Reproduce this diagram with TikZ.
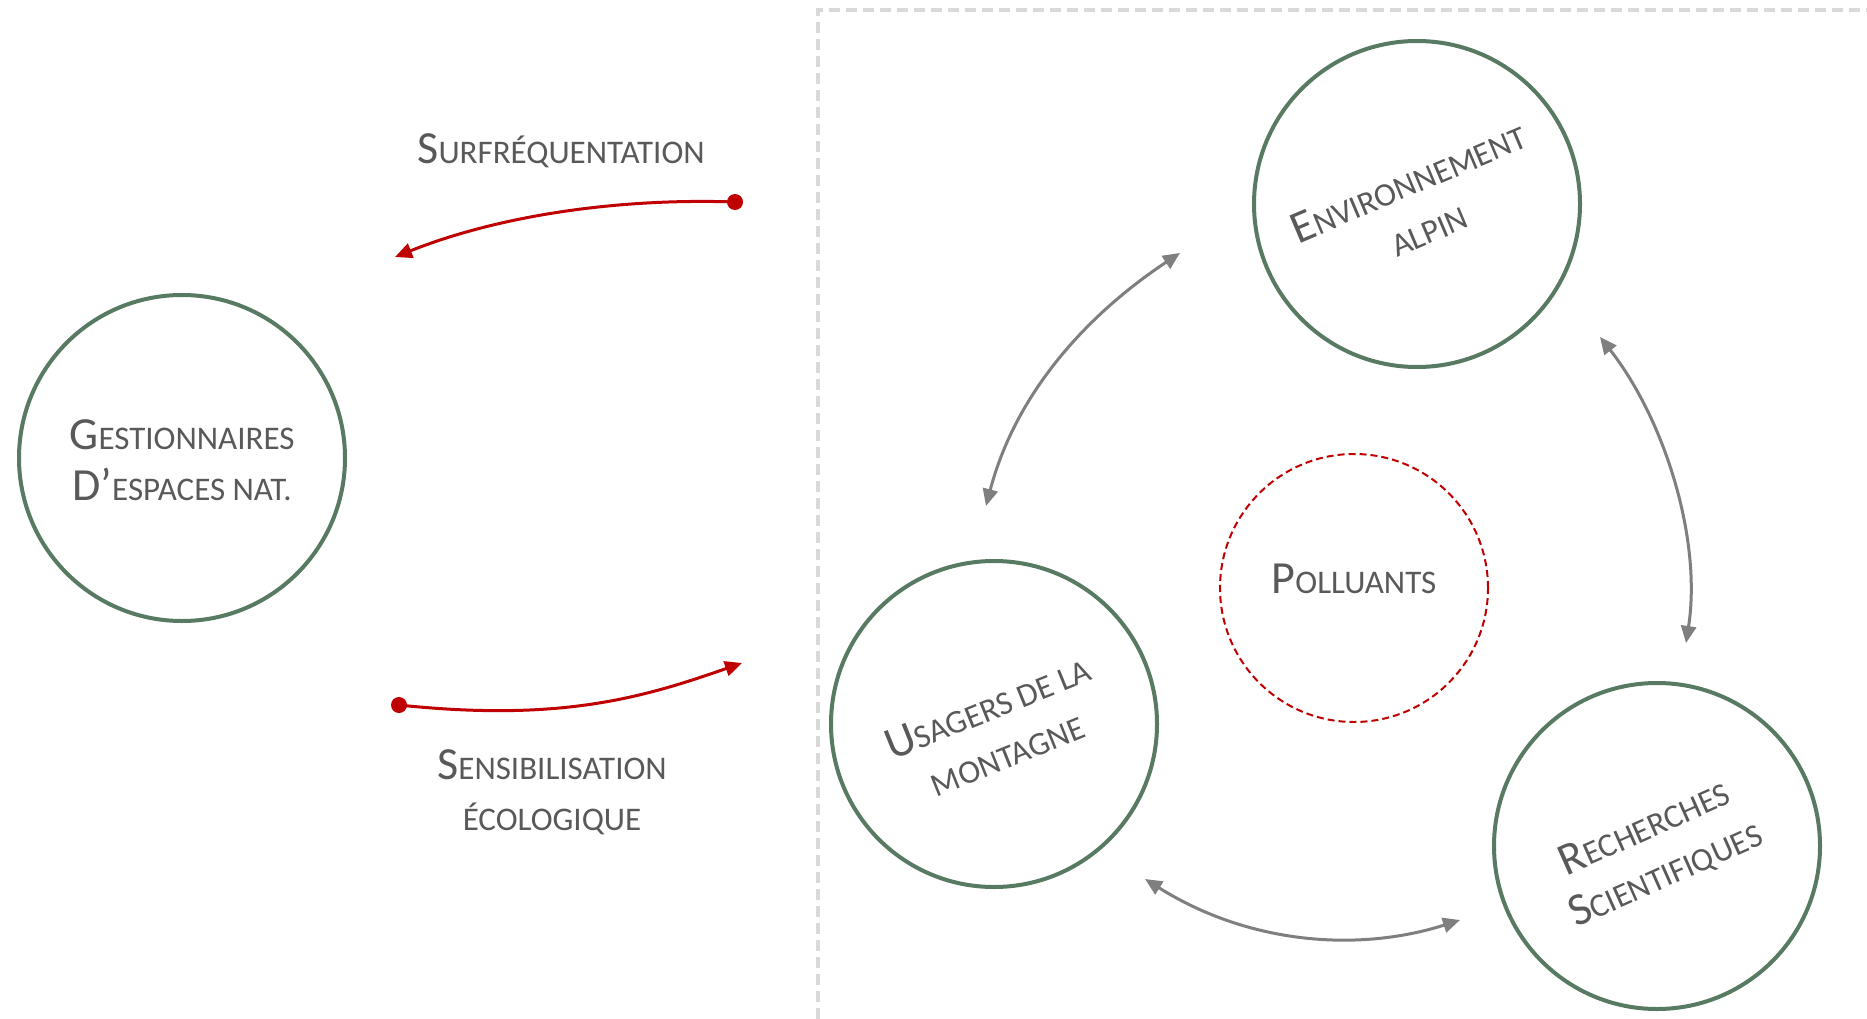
\documentclass[tikz,border=0pt]{standalone}
\usepackage{fontspec}
\setmainfont{Carlito}
\usetikzlibrary{arrows.meta}
\definecolor{ringgreen}{HTML}{587A62}
\definecolor{txtgray}{HTML}{595959}
\definecolor{arrgray}{HTML}{7F7F7F}
\definecolor{redc}{HTML}{C00000}
\definecolor{frame}{HTML}{D9D9D9}
\newcommand{\Bg}{\fontsize{46}{51}\selectfont}
\newcommand{\Sm}{\fontsize{33}{51}\selectfont}
\tikzset{
  ring/.style={circle, draw=ringgreen, line width=4pt, inner sep=0pt},
  redring/.style={circle, draw=redc, line width=2pt, dash pattern=on 7pt off 4pt, inner sep=0pt},
  lbl/.style={text=txtgray, align=center, inner sep=0pt, font=\Bg},
  grayarr/.style={draw=arrgray, line width=3pt, {Triangle[length=17pt,width=15pt]}-{Triangle[length=17pt,width=15pt]}},
  redarr/.style={draw=redc, line width=3pt, -{Triangle[length=17pt,width=15pt]}},
  reddot/.style={circle, fill=redc, minimum size=16pt, inner sep=0pt}
}
\begin{document}
\begin{tikzpicture}[x=1pt,y=-1pt]
\useasboundingbox[fill=white] (0,0) rectangle (1867,1019);
% frame
\draw[frame, line width=4pt, dash pattern=on 11pt off 6pt] (818,1019) -- (818,10) -- (1867,10);
% circles
\node[ring, minimum size=326pt] (gest) at (182,458) {};
\node[ring, minimum size=326pt] (env) at (1417,204) {};
\node[ring, minimum size=326pt] (usa) at (994,724) {};
\node[ring, minimum size=326pt] (rec) at (1657,846) {};
\node[redring, minimum size=268pt] (pol) at (1354,588) {};
% labels
\node[lbl] (gestl) at (182,460) {{\Bg G}{\Sm ESTIONNAIRES}\\{\Bg D’}{\Sm ESPACES NAT.}};
\node[lbl] (envl) at (1418,205) [rotate=23] {{\Bg E}{\Sm NVIRONNEMENT}\\{\Sm ALPIN}};
\node[lbl] (usal) at (997,730) [rotate=22] {{\Bg U}{\Sm SAGERS DE LA}\\{\Sm MONTAGNE}};
\node[lbl] (recl) at (1655,851) [rotate=24] {{\Bg R}{\Sm ECHERCHES}\\{\Bg S}{\Sm CIENTIFIQUES}};
\node[lbl] (poll) at (1354,579) {{\Bg P}{\Sm OLLUANTS}};
\node[lbl] (surf) at (561,151) {{\Bg S}{\Sm URFRÉQUENTATION}};
\node[lbl] (sens) at (552,792) {{\Bg S}{\Sm ENSIBILISATION}\\{\Sm ÉCOLOGIQUE}};
% red arrows
\node[reddot] (d1) at (735,202) {};
\coordinate (t1) at (395,257);
\draw[redarr] (d1.center) .. controls (620,198) and (500,215) .. (t1);
\node[reddot] (d2) at (399,705) {};
\coordinate (t2) at (742,663);
\draw[redarr] (d2.center) .. controls (560,722) and (642,698) .. (t2);
% gray arrows
\coordinate (a1) at (986,506);
\coordinate (a2) at (1180,253);
\draw[grayarr] (a1) .. controls (1016,392) and (1088,314) .. (a2);
\coordinate (b1) at (1600,337);
\coordinate (b2) at (1686,643);
\draw[grayarr] (b1) .. controls (1665,420) and (1702,540) .. (b2);
\coordinate (c1) at (1145,879);
\coordinate (c2) at (1460,920);
\draw[grayarr] (c1) .. controls (1250,945) and (1360,952) .. (c2);
\end{tikzpicture}
\end{document}
